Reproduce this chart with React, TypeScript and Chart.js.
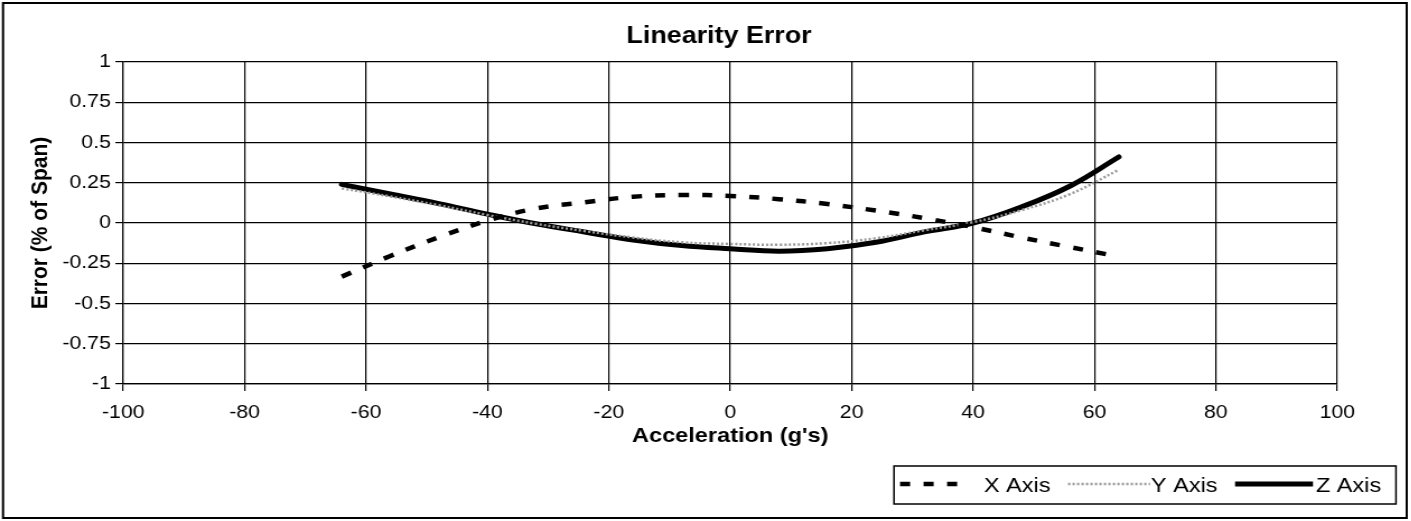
import React, { useEffect, useRef } from "react";
import { Chart, registerables } from "chart.js";

Chart.register(...registerables);

// ---- data ----
const accel = [-64, -56, -48, -40, -32, -24, -16, -8, 0, 8, 16, 24, 32, 40, 48, 56, 64];
const xAxisErr = [-0.333, -0.205, -0.088, 0.015, 0.09, 0.128, 0.163, 0.174, 0.168, 0.148, 0.118, 0.077, 0.03, -0.026, -0.09, -0.15, -0.209];
const yAxisErr = [0.215, 0.165, 0.11, 0.05, -0.005, -0.05, -0.09, -0.12, -0.13, -0.135, -0.125, -0.095, -0.045, 0.005, 0.08, 0.18, 0.33];
const zAxisErr = [0.24, 0.18, 0.12, 0.055, -0.005, -0.056, -0.105, -0.14, -0.16, -0.175, -0.16, -0.12, -0.055, 0.0, 0.1, 0.23, 0.41];
const seriesNames = ["X Axis", "Y Axis", "Z Axis"];
const xTickValues = [-100, -80, -60, -40, -20, 0, 20, 40, 60, 80, 100];
const yTickValues = [-1, -0.75, -0.5, -0.25, 0, 0.25, 0.5, 0.75, 1];
const chartTitle = "Linearity Error";
const xTitle = "Acceleration (g's)";
const yTitle = "Error (% of Span)";

// ---- layout ----
const SX = 1.12; // the scan is horizontally stretched
const PAGE_W = 1411;
const H = 521;
const W = Math.round(PAGE_W / SX);
const FONT = "'Liberation Sans', Arial, sans-serif";

const decorPlugin = {
  id: "decor",
  beforeDraw(chart: any) {
    const ctx = chart.ctx;
    ctx.save();
    ctx.fillStyle = "#ffffff";
    ctx.fillRect(0, 0, chart.width, chart.height);
    ctx.restore();
  },
  afterDraw(chart: any) {
    const ctx = chart.ctx;
    const area = chart.chartArea;
    ctx.save();
    // outer frame
    ctx.strokeStyle = "#000";
    ctx.lineWidth = 2;
    ctx.strokeRect(2.7, 3, 1256 - 2.7, 518 - 3);

    ctx.fillStyle = "#000";
    // title
    ctx.font = `bold 24px ${FONT}`;
    ctx.textAlign = "center";
    ctx.textBaseline = "alphabetic";
    ctx.fillText(chartTitle, 642, 43);
    // x title
    ctx.font = `bold 21px ${FONT}`;
    ctx.fillText(xTitle, (area.left + area.right) / 2, 442);
    // y title
    ctx.save();
    ctx.translate(36.5, (area.top + area.bottom) / 2);
    ctx.rotate(-Math.PI / 2);
    ctx.textBaseline = "middle";
    ctx.fillText(yTitle, 0, 0);
    ctx.restore();

    // legend box
    ctx.lineWidth = 1.5;
    ctx.strokeStyle = "#000";
    ctx.strokeRect(798.2, 466, 1246.4 - 798.2, 504 - 466);
    const ly = 484;
    // X sample
    ctx.beginPath();
    ctx.setLineDash([9, 12]);
    ctx.lineWidth = 4.5;
    ctx.lineCap = "butt";
    ctx.moveTo(803.6, ly);
    ctx.lineTo(863.4, ly);
    ctx.stroke();
    // Y sample
    ctx.beginPath();
    ctx.setLineDash([2, 2]);
    ctx.lineWidth = 2.5;
    ctx.strokeStyle = "#9a9a9a";
    ctx.moveTo(953.6, ly);
    ctx.lineTo(1026.8, ly);
    ctx.stroke();
    // Z sample
    ctx.beginPath();
    ctx.setLineDash([]);
    ctx.lineWidth = 5;
    ctx.strokeStyle = "#000";
    ctx.moveTo(1102.7, ly);
    ctx.lineTo(1172.3, ly);
    ctx.stroke();
    // legend texts
    ctx.font = `21px ${FONT}`;
    ctx.textAlign = "left";
    ctx.textBaseline = "alphabetic";
    ctx.fillStyle = "#000";
    ctx.fillText(seriesNames[0], 878.5, 492);
    ctx.fillText(seriesNames[1], 1027.6, 492);
    ctx.fillText(seriesNames[2], 1174.9, 492);
    ctx.restore();
  },
};

export default function App() {
  const ref = useRef<HTMLCanvasElement | null>(null);

  useEffect(() => {
    document.body.style.margin = "0";
    const canvas = ref.current;
    if (!canvas) return;
    const mk = (vals: number[]) => accel.map((a, i) => ({ x: a, y: vals[i] }));
    const chart = new Chart(canvas, {
      type: "line",
      data: {
        datasets: [
          {
            label: seriesNames[0],
            data: mk(xAxisErr),
            borderColor: "#000",
            borderWidth: 4.5,
            borderDash: [9, 12],
            borderCapStyle: "butt",
            pointRadius: 0,
            tension: 0.4,
            fill: false,
          },
          {
            label: seriesNames[1],
            data: mk(yAxisErr),
            borderColor: "#9a9a9a",
            borderWidth: 2.5,
            borderDash: [2, 2],
            pointRadius: 0,
            tension: 0.4,
            fill: false,
          },
          {
            label: seriesNames[2],
            data: mk(zAxisErr),
            borderColor: "#000",
            borderWidth: 5,
            borderCapStyle: "round",
            pointRadius: 0,
            tension: 0.4,
            fill: false,
          },
        ],
      },
      options: {
        animation: false,
        responsive: false,
        devicePixelRatio: 1,
        layout: { padding: { left: 0, top: 62, right: W - 1194, bottom: 0 } },
        plugins: {
          legend: { display: false },
          title: { display: false },
          tooltip: { enabled: false },
        },
        scales: {
          x: {
            type: "linear",
            min: -100,
            max: 100,
            afterBuildTicks: (s: any) => {
              s.ticks = xTickValues.map((v) => ({ value: v }));
            },
            afterFit: (s: any) => {
              s.height = 137;
            },
            ticks: {
              callback: (v: any) => String(v),
              font: { size: 19, family: FONT },
              color: "#000",
              padding: 10,
              maxRotation: 0,
              autoSkip: false,
            },
            grid: { color: "#000", lineWidth: 1.2, tickLength: 7, drawTicks: true },
            border: { color: "#000", width: 1.2 },
          },
          y: {
            type: "linear",
            min: -1,
            max: 1,
            afterBuildTicks: (s: any) => {
              s.ticks = yTickValues.map((v) => ({ value: v }));
            },
            afterFit: (s: any) => {
              s.width = 110;
            },
            ticks: {
              callback: (v: any) => String(v),
              font: { size: 19, family: FONT },
              color: "#000",
              padding: 4,
              autoSkip: false,
            },
            grid: { color: "#000", lineWidth: 1.2, tickLength: 7, drawTicks: true },
            border: { color: "#000", width: 1.2 },
          },
        },
      },
      plugins: [decorPlugin],
    } as any);
    return () => chart.destroy();
  }, []);

  return (
    <div style={{ width: PAGE_W, height: H, overflow: "hidden", position: "relative" }}>
      <div style={{ width: W, height: H, transform: `scaleX(${SX})`, transformOrigin: "0 0" }}>
        <canvas ref={ref} width={W} height={H} style={{ width: W, height: H, display: "block" }} />
      </div>
    </div>
  );
}
